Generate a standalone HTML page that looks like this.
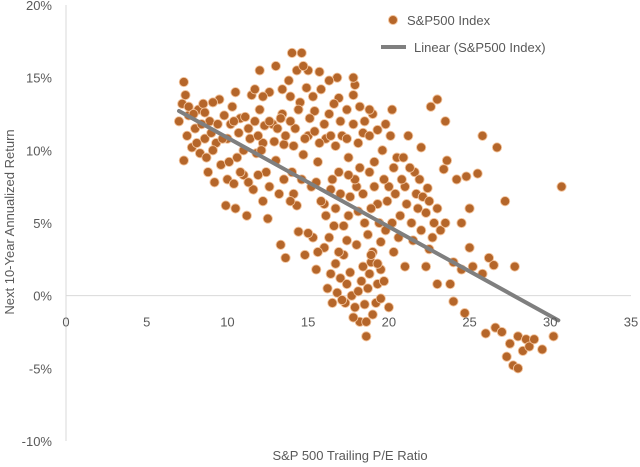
<!DOCTYPE html>
<html><head><meta charset="utf-8"><style>
body{margin:0;background:#fff;}
svg{display:block;font-family:"Liberation Sans",sans-serif;}
text{fill:#595959;font-size:13px;}
</style></head><body>
<svg id="chart" width="640" height="467" viewBox="0 0 640 467">
<g id="grid"></g><g id="marks"></g><g id="trend"></g><g id="labels"></g>
<g>
<circle cx="393" cy="20" r="4.5" fill="#b5662a" stroke="#f2c29a" stroke-width="1"/>
<text x="407" y="25">S&amp;P500 Index</text>
<line x1="381" y1="47" x2="406" y2="47" stroke="#7f7f7f" stroke-width="4"/>
<text x="414" y="52">Linear (S&amp;P500 Index)</text>
</g>
<text x="350" y="460" text-anchor="middle">S&amp;P 500 Trailing P/E Ratio</text>
<text transform="translate(14,222) rotate(-90)" text-anchor="middle">Next 10-Year Annualized Return</text>
</svg>
<script>
const xTicks=[0,5,10,15,20,25,30,35];
const yTicks=[20,15,10,5,0,-5,-10];
const trendIntercept=17.0;
const trendSlope=-0.613;
const trendRange=[7,30.5];
const scatterPoints=[[7,12],[7.2,13.2],[7.3,14.7],[7.4,13.8],[7.5,11],[7.6,12.4],[7.3,9.3],[7.8,10.2],[8,11.5],[8.2,12.8],[8.3,9.8],[8.5,13.2],[8.6,10.8],[8.8,8.5],[8.9,12],[9,11.2],[9.2,7.8],[9.3,10.5],[9.5,13.5],[9.6,9],[9.8,12.4],[10,8],[10,10.8],[10.2,11.8],[10.3,13],[10.5,6],[10.6,9.5],[10.8,12.2],[11,10],[11,8.3],[11.2,5.5],[11.3,11.5],[11.5,13.8],[11.6,7.3],[11.8,9.8],[12,12.8],[12,15.5],[12.2,10.5],[12.4,8.5],[12.5,5.3],[12.6,14],[12.8,11.8],[13,9.3],[13,15.8],[13.2,7],[13.3,3.5],[13.4,12.5],[13.5,10.4],[13.6,2.6],[13.8,14.8],[14,16.7],[14,8.5],[14.2,11.5],[14.3,6.2],[14.4,4.4],[14.5,13.3],[14.6,16.7],[14.7,9.7],[14.8,2.8],[15,15.5],[15,11],[15.2,7.5],[15.3,4],[15.4,12.7],[15.5,1.8],[15.6,9.2],[15.8,14.2],[16,6.3],[16,3.3],[16.1,10.8],[16.2,0.5],[16.3,12.5],[16.5,8],[16.5,-0.5],[16.6,4.8],[16.8,15],[17,7],[17,1.2],[17.1,11],[17.2,2.8],[17.3,-0.5],[17.5,5.5],[17.5,9.5],[17.7,0],[17.8,13.8],[18,3.5],[18,7.5],[18.2,-1.8],[18.3,1],[18.4,11.2],[18.5,5],[18.6,-2.8],[18.7,0.5],[18.8,8.5],[19,3],[19,12.5],[19.2,-0.5],[19.3,6.3],[19.5,1.8],[19.6,10],[19.8,4.5],[20,7.5],[20,-0.8],[20.2,12.8],[20.3,3],[20.5,9.5],[20.7,5.5],[21,7.5],[21,2],[21.2,11],[21.4,5],[21.6,8.5],[21.8,6],[22,4.5],[22,10.2],[22.3,5.7],[22.5,3.2],[22.6,13],[22.8,5],[23,0.8],[23.2,4.5],[23.4,8.7],[23.6,9.3],[23.8,0.8],[24,-0.4],[24,2.3],[24.2,8],[24.5,1.8],[24.7,-1.2],[25,3.3],[25.2,2],[25.5,8.4],[25.8,11],[25.8,1.5],[26,-2.6],[26.2,2.6],[26.5,2.1],[26.6,-2.2],[26.7,10.2],[27,-2.5],[27.2,6.5],[27.3,-4.2],[27.5,-3.3],[27.7,-4.8],[27.8,2],[28,-5],[28,-2.8],[28.3,-3.8],[28.5,-3],[28.7,-3.5],[29,-3],[29.5,-3.7],[30.2,-2.8],[30.7,7.5],
[10.4,12],[10.7,11.2],[11.1,12.3],[11.4,10.8],[11.7,12],[11.9,11],[12.1,10],[12.3,11.7],[12.6,12],[12.9,10.6],[13.1,11.5],[13.3,12.2],[13.6,11],[13.9,12],[14.1,10.3],[14.4,12.8],[14.8,10.8],[15.1,12.2],[15.4,11.3],[15.7,10.5],[16,11.8],[16.4,11],[16.7,10.3],[17,12],[17.4,10.8],[17.8,11.8],[18.1,10.5],[18.5,12],[18.8,11],[19.3,11.4],[19.8,11.8],[20.1,11],
[8.1,10.5],[8.4,11.8],[8.7,9.5],[9.1,10],[9.4,11.8],[9.7,10.8],[7.6,13],[7.9,12.5],[8.6,12.6],[9.1,13.3],[10.1,9.2],[10.4,7.7],[11.3,7.8],[11.9,8.3],[12.6,7.5],[12.2,6.5],[10.8,8.5],[9.9,6.2],[13.5,8],[14.1,7],[14.6,8],[13.9,6.5],
[13.4,14.2],[13.9,13.7],[14.3,15.5],[14.9,14.3],[15.3,13.7],[15.7,15.4],[16.3,14.8],[16.9,13.6],[17.4,12.8],[17.9,14.5],[18.2,13],[18.8,12.8],[12.2,13.7],[11.7,14.2],[10.5,14],[14.7,15.8],[16.6,13.2],[17.8,15],
[15.5,7.8],[15.8,6.5],[16.1,5.5],[16.4,7.3],[16.7,6],[16.9,8.5],[17.2,4.8],[17.6,6.8],[17.9,8],[18.1,5.8],[18.4,7],[18.7,4.2],[18.9,6],[19.1,7.5],[19.4,5],[19.7,8],[19.9,6.5],[20.2,5],[20.4,7],[20.8,8],[21.1,6.3],[21.3,8.8],[21.5,3.8],[21.7,7],[22.1,6.8],[22.4,7.4],[20.6,4],[19.5,3.7],[18.9,2.3],[17.4,3.8],[16.3,4],[15.6,3],[15,4.3],[20.9,9.5],[21.9,8],[20.3,8.8],[19.1,9.2],[18.2,8.8],[17.5,8.3],
[16.4,1.5],[16.7,2.2],[16.8,0.2],[17.1,-0.3],[17.4,0.8],[17.6,1.6],[17.9,-0.8],[18.1,0.3],[18.4,2],[18.5,-0.6],[18.8,1.5],[19,-1.3],[19.3,0.8],[19.5,-0.2],[19.7,1],[18.6,-1.8],[17.8,-1.5],[18.9,2.8],[19.3,2.2],[16.9,3],
[22.3,2],[22.7,4],[23,6],[23.5,5],[22.5,6.5],[24.5,5],[25,6],[24.8,8.2],[23.5,12],[23,13.5]];
const NS='http://www.w3.org/2000/svg';
const X0=66,X1=631,Y0=441,Y1=5;
function xs(v){return X0+(v-0)/(35-0)*(X1-X0);}
function ys(v){return Y0-(v+10)/(30)*(Y0-Y1);}
function mk(t,a,p){const e=document.createElementNS(NS,t);for(const k in a)e.setAttribute(k,a[k]);p.appendChild(e);return e;}
const grid=document.getElementById('grid'),labels=document.getElementById('labels'),marks=document.getElementById('marks'),trend=document.getElementById('trend');
const ya=mk('line',{x1:X0,y1:Y1,x2:X0,y2:Y0,stroke:'#d9d9d9','stroke-width':1},grid);


const xa=mk('line',{x1:X0,y1:ys(0),x2:X1,y2:ys(0),stroke:'#d9d9d9','stroke-width':1},grid);


xTicks.forEach(t=>{const e=mk('text',{x:xs(t),y:ys(0)+31,'text-anchor':'middle'},labels);e.textContent=t;

});
yTicks.forEach(t=>{const e=mk('text',{x:52,y:ys(t)+5,'text-anchor':'end'},labels);e.textContent=t+'%';

});
scatterPoints.forEach(p=>{const c=mk('circle',{cx:xs(p[0]),cy:ys(p[1]),r:4.6,fill:'#b5662a',stroke:'#f2c29a','stroke-width':0.9},marks);

});
const x1=trendRange[0],x2=trendRange[1];
const tl=mk('line',{x1:xs(x1),y1:ys(trendIntercept+trendSlope*x1),x2:xs(x2),y2:ys(trendIntercept+trendSlope*x2),stroke:'#7f7f7f','stroke-width':4,'stroke-linecap':'round'},trend);


</script>
</body></html>
